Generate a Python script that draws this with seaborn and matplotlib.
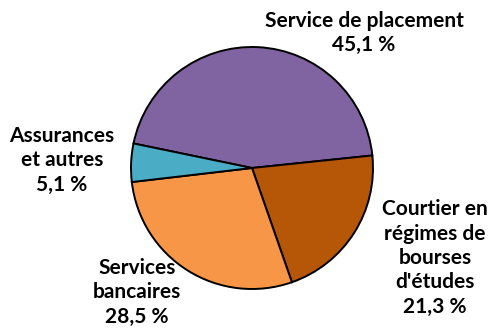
import matplotlib
matplotlib.use("Agg")
import matplotlib.pyplot as plt
import seaborn as sns

categories = ["Service de placement", "Courtier en\nrégimes de\nbourses\nd'études",
              "Services\nbancaires", "Assurances\net autres"]
values = [45.1, 21.3, 28.5, 5.1]
value_labels = ["45,1 %", "21,3 %", "28,5 %", "5,1 %"]
colors = ["#8064A2", "#B65708", "#F79646", "#4BACC6"]

sns.set_theme(style="white")
plt.rcParams['font.family'] = ['Lato', 'DejaVu Sans']

W, H = 499, 335
fig = plt.figure(figsize=(W / 100, H / 100), dpi=100)
ax = fig.add_axes([0, 0, 1, 1])
ax.set_xlim(0, W)
ax.set_ylim(0, H)
ax.set_aspect("equal")
ax.axis("off")

cx, cy, r = 252, H - 168, 121
ax.pie(values, colors=colors, startangle=168.3, counterclock=False,
       center=(cx, cy), radius=r, frame=True,
       wedgeprops=dict(edgecolor="black", linewidth=1.4))
ax.set_xlim(0, W)
ax.set_ylim(0, H)
ax.axis("off")

label_pos = [(364, 33), (435, 258), (137, 292), (62, 160)]
for cat, vl, (x, y) in zip(categories, value_labels, label_pos):
    ax.text(x, H - y, f"{cat}\n{vl}", ha="center", va="center",
            fontsize=15, fontweight="bold", color="black", linespacing=1.28)

fig.savefig("out.png", dpi=100)
